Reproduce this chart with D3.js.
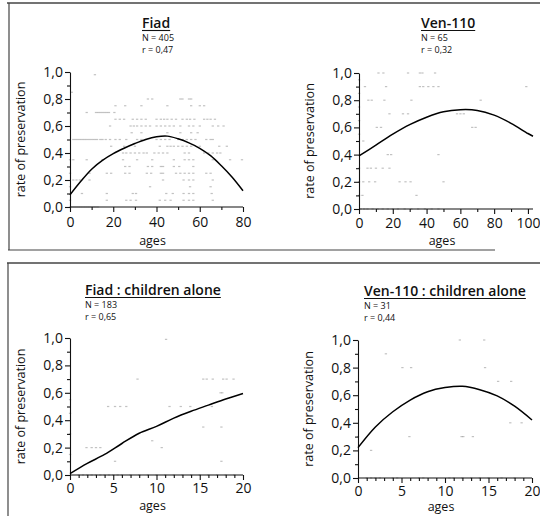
<!DOCTYPE html>
<html>
<head>
<meta charset="utf-8">
<script src="https://cdn.jsdelivr.net/npm/d3@7"></script>
<style>
  body { margin: 0; background: #fff; }
  svg { font-family: "Open Sans", sans-serif; }
</style>
</head>
<body>
<div id="chart"></div>
<script>
// scatter rows: [rate, [ages...]]
var fiadRows = [
  [0.98, [11.5]],
  [0.85, [0.8]],
  [0.80, [36, 38, 51, 52, 55, 56]],
  [0.75, [21, 25.5, 33, 45, 56, 60, 62]],
  [0.70, [7.7, 12, 13, 14, 15, 16, 17, 18, 20.5]],
  [0.65, [21, 23, 25, 29, 31, 33, 35, 40, 42, 43.5, 45, 47, 49, 52, 54, 55.5, 57.5, 62, 63.5, 65, 67]],
  [0.60, [18.5, 28, 29.5, 31, 33, 35, 37, 40, 42, 44, 46, 48, 51, 55, 57, 60, 66, 68.5, 71]],
  [0.55, [28.5, 33, 45, 51, 56, 59]],
  [0.50, [1.5, 2.5, 3.5, 4.5, 5.5, 6.5, 7.5, 8.5, 9.5, 10.5, 11.5, 12.5, 14, 15, 16.5, 18.5, 21, 23, 26, 31, 33, 35, 40, 42, 44, 46, 50, 52, 54, 56, 58, 63, 65, 66]],
  [0.45, [19, 25, 30, 41.5, 45, 46.5, 48, 50, 52, 54, 56, 60, 69, 72.5]],
  [0.40, [24.5, 26, 28, 30, 32, 34, 35.5, 39, 41, 43, 45, 53, 55, 62, 64, 66, 68, 69.5]],
  [0.35, [0, 1.5, 7.7, 15, 24.5, 31, 38, 48, 53, 55, 57, 66, 74, 79.5]],
  [0.30, [25.5, 27.5, 36, 38, 42, 43, 48, 50.5, 57]],
  [0.25, [0, 9, 17, 19, 25.5, 27.5, 35.5, 37.5, 42, 43, 49, 51, 53, 55, 57, 63, 65]],
  [0.20, [1.5, 3, 4.5, 9, 43, 52.5, 55, 57, 66]],
  [0.15, [0, 37, 55.5, 65]],
  [0.10, [5.5, 17, 29, 30.5, 44.5, 47.5, 52.5, 55, 57, 65.5]],
  [0.05, [0, 17, 26, 28, 30.5, 41.5, 44, 46.5, 52.5, 55, 57, 66]],
  [0.00, [0, 1, 2, 3, 4, 5, 6, 7, 8, 9, 10, 11, 12, 13]]
];
var venRows = [
  [1.00, [11.5, 14.4, 29, 36, 37.5, 45]],
  [0.95, [0]],
  [0.90, [3.5, 16, 36, 38, 41, 44, 47, 99]],
  [0.85, [0]],
  [0.80, [5.5, 7.5, 15, 31, 72]],
  [0.75, [0]],
  [0.70, [18, 26, 29, 58, 60, 62]],
  [0.65, [0]],
  [0.60, [10.5, 13, 67, 69]],
  [0.55, [0]],
  [0.50, [2.5]],
  [0.40, [17, 19, 47]],
  [0.30, [0, 5, 7, 10, 14, 18]],
  [0.20, [0, 2.5, 6, 9.5, 24, 27.5, 30.5, 50]],
  [0.10, [0, 2, 34]],
  [0.00, [1, 3, 5, 8, 11, 14, 17, 20, 23, 27, 31, 35, 39, 43, 47]]
];
var fiadKidRows = [
  [0.99, [11.1]],
  [0.70, [7.8, 15.4, 15.8, 16.5, 17.7, 18.1, 18.9]],
  [0.60, [17.4, 17.6]],
  [0.55, [0]],
  [0.50, [4.4, 5.2, 5.8, 6.5, 11.5, 12.8, 13.9, 16.4]],
  [0.45, [0]],
  [0.35, [15.4, 17.5]],
  [0.30, [0]],
  [0.25, [9.5]],
  [0.20, [1.9, 2.5, 3.0, 3.5, 10.6]],
  [0.15, [0]],
  [0.10, [5.2, 17.5]],
  [0.00, [1, 1.5, 2, 2.5, 3, 3.5, 4, 4.5, 5, 5.5, 6, 7, 8, 9, 10, 11, 12, 13, 14, 15, 16, 17, 18, 19]]
];
var venKidRows = [
  [1.00, [11.7, 14.5]],
  [0.90, [3.2]],
  [0.80, [5.1, 6.1, 14.6]],
  [0.70, [16.1, 17.6]],
  [0.40, [17.5, 18.8]],
  [0.30, [0, 5.9, 11.9, 12.1, 13.2]],
  [0.20, [1.5]],
  [0.00, [1, 1.5, 2, 2.5, 4, 4.5, 7, 7.5, 10.5, 11, 12, 13, 14, 15, 16.5, 18]]
];

// fitted curves
var fiadCurveAges = [0, 5, 10, 15, 20, 25, 30, 35, 40, 45, 50, 55, 60, 65, 70, 75, 80];
var fiadCurveRate = [0.09, 0.19, 0.28, 0.345, 0.395, 0.435, 0.47, 0.50, 0.52, 0.525, 0.505, 0.475, 0.435, 0.38, 0.305, 0.22, 0.12];
var venCurveAges = [0, 10, 20, 30, 40, 50, 60, 70, 80, 90, 100, 103];
var venCurveRate = [0.39, 0.47, 0.55, 0.62, 0.675, 0.715, 0.73, 0.725, 0.69, 0.63, 0.555, 0.535];
var kidCurveAges = [0, 2, 4, 6, 8, 10, 12, 14, 16, 18, 20];
var fiadKidCurveRate = [0.01, 0.085, 0.15, 0.23, 0.305, 0.355, 0.415, 0.465, 0.51, 0.555, 0.595];
var venKidCurveRate = [0.22, 0.37, 0.48, 0.565, 0.625, 0.655, 0.665, 0.64, 0.595, 0.52, 0.42];

var titles = ["Fiad", "Ven-110", "Fiad : children alone", "Ven-110 : children alone"];
var nLabels = ["N = 405", "N = 65", "N = 183", "N = 31"];
var rLabels = ["r = 0,47", "r = 0,32", "r = 0,65", "r = 0,44"];
var yTicks = [0, 0.2, 0.4, 0.6, 0.8, 1.0];

var svg = d3.select("#chart").append("svg")
    .attr("width", 540)
    .attr("height", 516);

// scanned frame lines
var frame = svg.append("g").attr("stroke", "#444").attr("fill", "none");
frame.append("line").attr("x1", 7).attr("x2", 540).attr("y1", 3).attr("y2", 3).attr("stroke-width", 1.6);
frame.append("line").attr("x1", 9).attr("x2", 9).attr("y1", 3).attr("y2", 250).attr("stroke-width", 1.2);
frame.append("line").attr("x1", 8).attr("x2", 495).attr("y1", 250).attr("y2", 250).attr("stroke-width", 1.2);
frame.append("line").attr("x1", 7).attr("x2", 540).attr("y1", 263).attr("y2", 263).attr("stroke-width", 1.6);
frame.append("line").attr("x1", 8).attr("x2", 8).attr("y1", 263).attr("y2", 516).attr("stroke-width", 1.2);

var comma = function(d) { return d3.format(".1f")(d).replace(".", ","); };

function draw_panel(p) {
    var g = svg.append("g");
    var x = d3.scaleLinear().domain(p.xDomain).range([p.left, p.right]);
    var y = d3.scaleLinear().domain([0, 1]).range([p.bottom, p.top]);

    // points
    var pts = [];
    p.rows.forEach(function(r) {
        r[1].forEach(function(a) { pts.push({age: a, rate: r[0]}); });
    });
    g.selectAll("rect.pt")
        .data(pts)
        .enter()
        .append("rect")
        .attr("class", "pt")
        .attr("x", function(d) { return x(d.age) - 1.1; })
        .attr("y", function(d) { return y(d.rate) - 0.6; })
        .attr("width", 2.3)
        .attr("height", 1.2)
        .attr("fill", "#777")
        .attr("opacity", 0.45);

    // y axis
    var yMinor = g.append("g")
        .attr("transform", "translate(" + p.left + ",0)")
        .call(d3.axisLeft(y).tickValues(d3.range(0.1, 1, 0.2)).tickSize(3).tickFormat(""));
    var yAxis = g.append("g")
        .attr("transform", "translate(" + p.left + ",0)")
        .call(d3.axisLeft(y).tickValues(yTicks).tickSize(5).tickSizeOuter(0).tickPadding(2).tickFormat(comma));

    // x axis
    var xMinor = g.append("g")
        .attr("transform", "translate(0," + p.bottom + ")")
        .call(d3.axisBottom(x).tickValues(p.xMinor).tickSize(3).tickFormat(""));
    var xAxis = g.append("g")
        .attr("transform", "translate(0," + p.bottom + ")")
        .call(d3.axisBottom(x).tickValues(p.xTicks).tickSize(5).tickSizeOuter(0).tickPadding(p.xPad).tickFormat(d3.format("d")));
    xAxis.select(".domain").attr("d", "M" + p.left + ",0H" + p.right);

    [yMinor, xMinor].forEach(function(a) { a.select(".domain").remove(); });
    [yAxis, xAxis, yMinor, xMinor].forEach(function(a) {
        a.selectAll("line,path").attr("stroke", "#111").attr("stroke-width", 1.1);
        a.selectAll("text").attr("font-size", "14px").attr("fill", "#111")
            .attr("font-family", "Open Sans");
    });

    // fitted curve
    var line = d3.line()
        .x(function(d) { return x(d[0]); })
        .y(function(d) { return y(d[1]); })
        .curve(d3.curveCatmullRom);
    g.append("path")
        .datum(d3.zip(p.curveAges, p.curveRate))
        .attr("d", line)
        .attr("fill", "none")
        .attr("stroke", "#000")
        .attr("stroke-width", 1.5);

    // axis titles
    g.append("text")
        .attr("x", (p.left + p.right) / 2 - 4)
        .attr("y", p.bottom + p.agesGap)
        .text("ages")
        .style("text-anchor", "middle")
        .attr("font-size", "12.5px")
        .attr("fill", "#111");
    g.append("text")
        .attr("transform", "translate(" + (p.left - 45) + "," + ((p.top + p.bottom) / 2) + ") rotate(-90)")
        .text("rate of preservation")
        .style("text-anchor", "middle")
        .attr("font-size", "12.5px")
        .attr("fill", "#111");

    // heading
    var t = g.append("text")
        .attr("x", p.titleX)
        .attr("y", p.titleY)
        .text(p.title)
        .attr("font-size", "14px")
        .attr("font-weight", 600)
        .attr("fill", "#111");
    var w = t.node().getComputedTextLength();
    g.append("line")
        .attr("x1", p.titleX).attr("x2", p.titleX + w)
        .attr("y1", p.titleY + 2.5).attr("y2", p.titleY + 2.5)
        .attr("stroke", "#111").attr("stroke-width", 1.1);
    g.append("text")
        .attr("x", p.titleX)
        .attr("y", p.titleY + p.gap)
        .text(p.n)
        .attr("font-size", "9px")
        .attr("fill", "#111");
    g.append("text")
        .attr("x", p.titleX)
        .attr("y", p.titleY + 2 * p.gap)
        .text(p.r)
        .attr("font-size", "9px")
        .attr("fill", "#111");
}

draw_panel({
    rows: fiadRows, curveAges: fiadCurveAges, curveRate: fiadCurveRate,
    xDomain: [0, 80], xTicks: [0, 20, 40, 60, 80], xMinor: [10, 30, 50, 70],
    left: 70, right: 243, top: 72, bottom: 207, xPad: 5, agesGap: 38,
    title: titles[0], n: nLabels[0], r: rLabels[0], titleX: 142, titleY: 28, gap: 12.5
});
draw_panel({
    rows: venRows, curveAges: venCurveAges, curveRate: venCurveRate,
    xDomain: [0, 103], xTicks: [0, 20, 40, 60, 80, 100], xMinor: [10, 30, 50, 70, 90],
    left: 359, right: 533, top: 73, bottom: 209, xPad: 4, agesGap: 36,
    title: titles[1], n: nLabels[1], r: rLabels[1], titleX: 421, titleY: 28, gap: 12.5
});
draw_panel({
    rows: fiadKidRows, curveAges: kidCurveAges, curveRate: fiadKidCurveRate,
    xDomain: [0, 20], xTicks: [0, 5, 10, 15, 20], xMinor: d3.range(1, 20).filter(function(d) { return d % 5; }),
    left: 70, right: 243, top: 338, bottom: 475, xPad: 3, agesGap: 35,
    title: titles[2], n: nLabels[2], r: rLabels[2], titleX: 85, titleY: 295, gap: 12.5
});
draw_panel({
    rows: venKidRows, curveAges: kidCurveAges, curveRate: venKidCurveRate,
    xDomain: [0, 20], xTicks: [0, 5, 10, 15, 20], xMinor: d3.range(1, 20).filter(function(d) { return d % 5; }),
    left: 358, right: 532, top: 340, bottom: 478, xPad: 3, agesGap: 33,
    title: titles[3], n: nLabels[3], r: rLabels[3], titleX: 364, titleY: 296, gap: 12.5
});
</script>
</body>
</html>
